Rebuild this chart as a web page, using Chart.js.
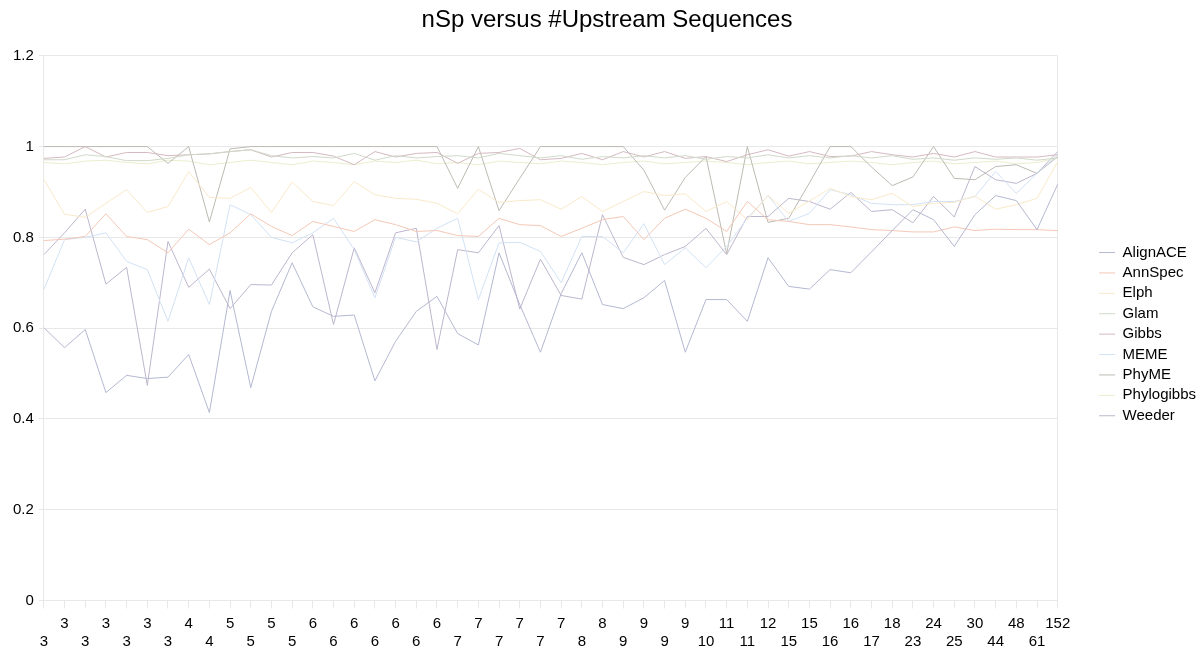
<!DOCTYPE html>
<html><head><meta charset="utf-8">
<script src="https://cdn.jsdelivr.net/npm/chart.js@4.4.1/dist/chart.umd.min.js"></script>
<style>html,body{margin:0;padding:0;background:#fff}</style>
</head><body>
<canvas id="c" width="1200" height="658"></canvas>
<script>
const categories = ["3","3","3","3","3","3","3","4","4","5","5","5","5","6","6","6","6","6","6","6","7","7","7","7","7","7","8","8","9","9","9","9","10","11","11","12","15","15","16","16","17","18","23","24","25","30","44","48","61","152"];
const seriesNames = ["AlignACE","AnnSpec","Elph","Glam","Gibbs","MEME","PhyME","Phylogibbs","Weeder"];
const yTickLabels = ["0","0.2","0.4","0.6","0.8","1","1.2"];

const AlignACE = [0.601,0.557,0.597,0.458,0.496,0.489,0.492,0.542,0.414,0.683,0.469,0.637,0.744,0.647,0.626,0.629,0.484,0.571,0.637,0.670,0.588,0.563,0.766,0.652,0.547,0.676,0.766,0.652,0.643,0.667,0.705,0.547,0.663,0.663,0.615,0.755,0.692,0.686,0.729,0.722,0.768,0.815,0.861,0.839,0.780,0.850,0.892,0.881,0.817,0.917];
const AnnSpec = [0.793,0.796,0.802,0.852,0.802,0.795,0.766,0.818,0.784,0.810,0.852,0.824,0.804,0.835,0.824,0.813,0.839,0.828,0.813,0.815,0.804,0.802,0.842,0.828,0.826,0.802,0.820,0.839,0.846,0.795,0.842,0.862,0.842,0.813,0.879,0.839,0.835,0.828,0.828,0.823,0.817,0.815,0.812,0.812,0.823,0.815,0.818,0.817,0.817,0.815];
const Elph = [0.928,0.851,0.844,0.875,0.905,0.855,0.868,0.945,0.888,0.886,0.910,0.855,0.922,0.879,0.870,0.923,0.894,0.886,0.884,0.875,0.852,0.906,0.877,0.881,0.883,0.862,0.890,0.857,0.879,0.901,0.892,0.896,0.857,0.879,0.839,0.892,0.853,0.880,0.908,0.890,0.883,0.897,0.868,0.875,0.877,0.891,0.862,0.872,0.886,0.967];
const Glam = [0.971,0.971,0.982,0.978,0.969,0.969,0.974,0.982,0.984,0.989,0.993,0.980,0.975,0.978,0.975,0.985,0.970,0.980,0.975,0.978,0.980,0.975,0.985,0.980,0.975,0.980,0.972,0.978,0.975,0.980,0.975,0.980,0.972,0.978,0.975,0.982,0.975,0.980,0.975,0.980,0.975,0.980,0.972,0.975,0.970,0.975,0.972,0.975,0.970,0.975];
const Gibbs = [0.974,0.977,1.000,0.977,0.987,0.987,0.980,0.982,0.984,0.989,0.993,0.977,0.987,0.987,0.979,0.960,0.989,0.977,0.985,0.987,0.963,0.985,0.987,0.996,0.971,0.974,0.985,0.971,0.989,0.977,0.989,0.974,0.978,0.967,0.982,0.993,0.979,0.989,0.978,0.979,0.989,0.982,0.977,0.985,0.977,0.989,0.977,0.977,0.977,0.982];
const MEME = [0.685,0.795,0.800,0.810,0.747,0.729,0.615,0.755,0.652,0.872,0.850,0.800,0.788,0.810,0.842,0.773,0.667,0.800,0.790,0.820,0.842,0.663,0.788,0.789,0.769,0.700,0.802,0.802,0.766,0.830,0.740,0.777,0.733,0.780,0.842,0.892,0.835,0.853,0.905,0.894,0.875,0.872,0.872,0.879,0.879,0.890,0.945,0.897,0.941,0.982];
const PhyME = [1.000,1.000,1.000,1.000,1.000,1.000,0.963,1.000,0.834,0.995,1.000,1.000,1.000,1.000,1.000,1.000,1.000,1.000,1.000,1.000,0.908,1.000,0.859,0.930,1.000,1.000,1.000,1.000,1.000,0.948,0.860,0.932,0.978,0.764,1.000,0.833,0.842,0.920,1.000,1.000,0.955,0.914,0.933,1.000,0.930,0.927,0.956,0.960,0.941,0.978];
const Phylogibbs = [0.965,0.962,0.968,0.970,0.965,0.962,0.970,0.968,0.960,0.965,0.970,0.965,0.960,0.968,0.965,0.960,0.968,0.965,0.970,0.962,0.965,0.960,0.968,0.965,0.962,0.968,0.965,0.960,0.965,0.968,0.962,0.965,0.968,0.965,0.960,0.965,0.968,0.962,0.965,0.968,0.965,0.960,0.965,0.968,0.962,0.965,0.968,0.962,0.965,0.975];
const Weeder = [0.762,0.810,0.862,0.697,0.734,0.474,0.791,0.690,0.730,0.643,0.696,0.695,0.766,0.806,0.608,0.777,0.678,0.810,0.820,0.553,0.773,0.766,0.826,0.642,0.752,0.672,0.664,0.850,0.756,0.740,0.762,0.780,0.820,0.762,0.846,0.846,0.886,0.879,0.862,0.899,0.857,0.861,0.832,0.890,0.845,0.956,0.927,0.919,0.941,0.989];

const seriesValues = [AlignACE, AnnSpec, Elph, Glam, Gibbs, MEME, PhyME, Phylogibbs, Weeder];
const seriesColors = ["rgb(180,184,208)","rgb(244,200,182)","rgb(249,233,200)","rgb(208,218,200)","rgb(212,186,192)","rgb(210,226,244)","rgb(188,186,178)","rgb(234,238,204)","rgb(190,182,204)"];

const gridColor = "rgb(232,232,232)";
const FONT = "'Liberation Sans', Arial, sans-serif";

// legend placement: widen legend box and move its items right/down
const LEGEND_EXTRA = 36;
const LEGEND_SHIFT_X = 36;
const LEGEND_SHIFT_Y = 6;
const legendShift = {
  id: 'legendShift',
  beforeLayout(chart) {
    const lg = chart.legend;
    if (lg && !lg._wrappedFit) {
      const f = lg.fit;
      lg.fit = function () { f.call(this); this.width += LEGEND_EXTRA; };
      lg._wrappedFit = true;
    }
  },
  afterLayout(chart) {
    const lg = chart.legend;
    if (lg) {
      lg.left += LEGEND_SHIFT_X; lg.right += LEGEND_SHIFT_X;
      lg.top += LEGEND_SHIFT_Y; lg.bottom += LEGEND_SHIFT_Y;
    }
  }
};

new Chart(document.getElementById('c'), {
  type: 'line',
  data: {
    labels: categories,
    datasets: seriesNames.map((n, k) => ({
      label: n,
      data: seriesValues[k],
      borderColor: seriesColors[k],
      backgroundColor: seriesColors[k],
      borderWidth: 1,
      pointRadius: 0,
      pointHoverRadius: 0,
      tension: 0,
      fill: false
    }))
  },
  plugins: [legendShift],
  options: {
    responsive: false,
    animation: false,
    devicePixelRatio: 1,
    layout: { padding: { left: 8, right: -6, top: 0, bottom: 1 } },
    plugins: {
      title: {
        display: true,
        text: 'nSp versus #Upstream Sequences',
        color: '#000',
        font: { family: FONT, size: 24, weight: 'normal' },
        padding: { top: 6, bottom: 21 }
      },
      legend: {
        position: 'right',
        fullSize: false,
        labels: {
          color: '#000',
          font: { family: FONT, size: 15 },
          usePointStyle: true,
          pointStyle: 'line',
          pointStyleWidth: 16,
          padding: 5.4
        }
      },
      tooltip: { enabled: false }
    },
    scales: {
      x: {
        type: 'category',
        grid: {
          display: true,
          drawOnChartArea: true,
          color: (ctx) => ctx.index === categories.length - 1 ? gridColor : 'rgba(0,0,0,0)',
          tickColor: gridColor,
          tickLength: 8
        },
        border: { display: true, color: gridColor },
        ticks: {
          autoSkip: false,
          maxRotation: 0,
          minRotation: 0,
          color: '#000',
          padding: 7,
          font: { family: FONT, size: 15, lineHeight: 1.15 },
          callback: (v, i) => i % 2 === 0 ? ['', categories[i]] : [categories[i]]
        }
      },
      y: {
        min: 0,
        max: 1.2,
        grid: { color: gridColor, tickLength: 5, tickColor: gridColor },
        border: { display: true, color: gridColor },
        ticks: {
          stepSize: 0.2,
          color: '#000',
          padding: 5,
          font: { family: FONT, size: 15 },
          callback: (v, i) => yTickLabels[i]
        }
      }
    }
  }
});
</script>
</body></html>
